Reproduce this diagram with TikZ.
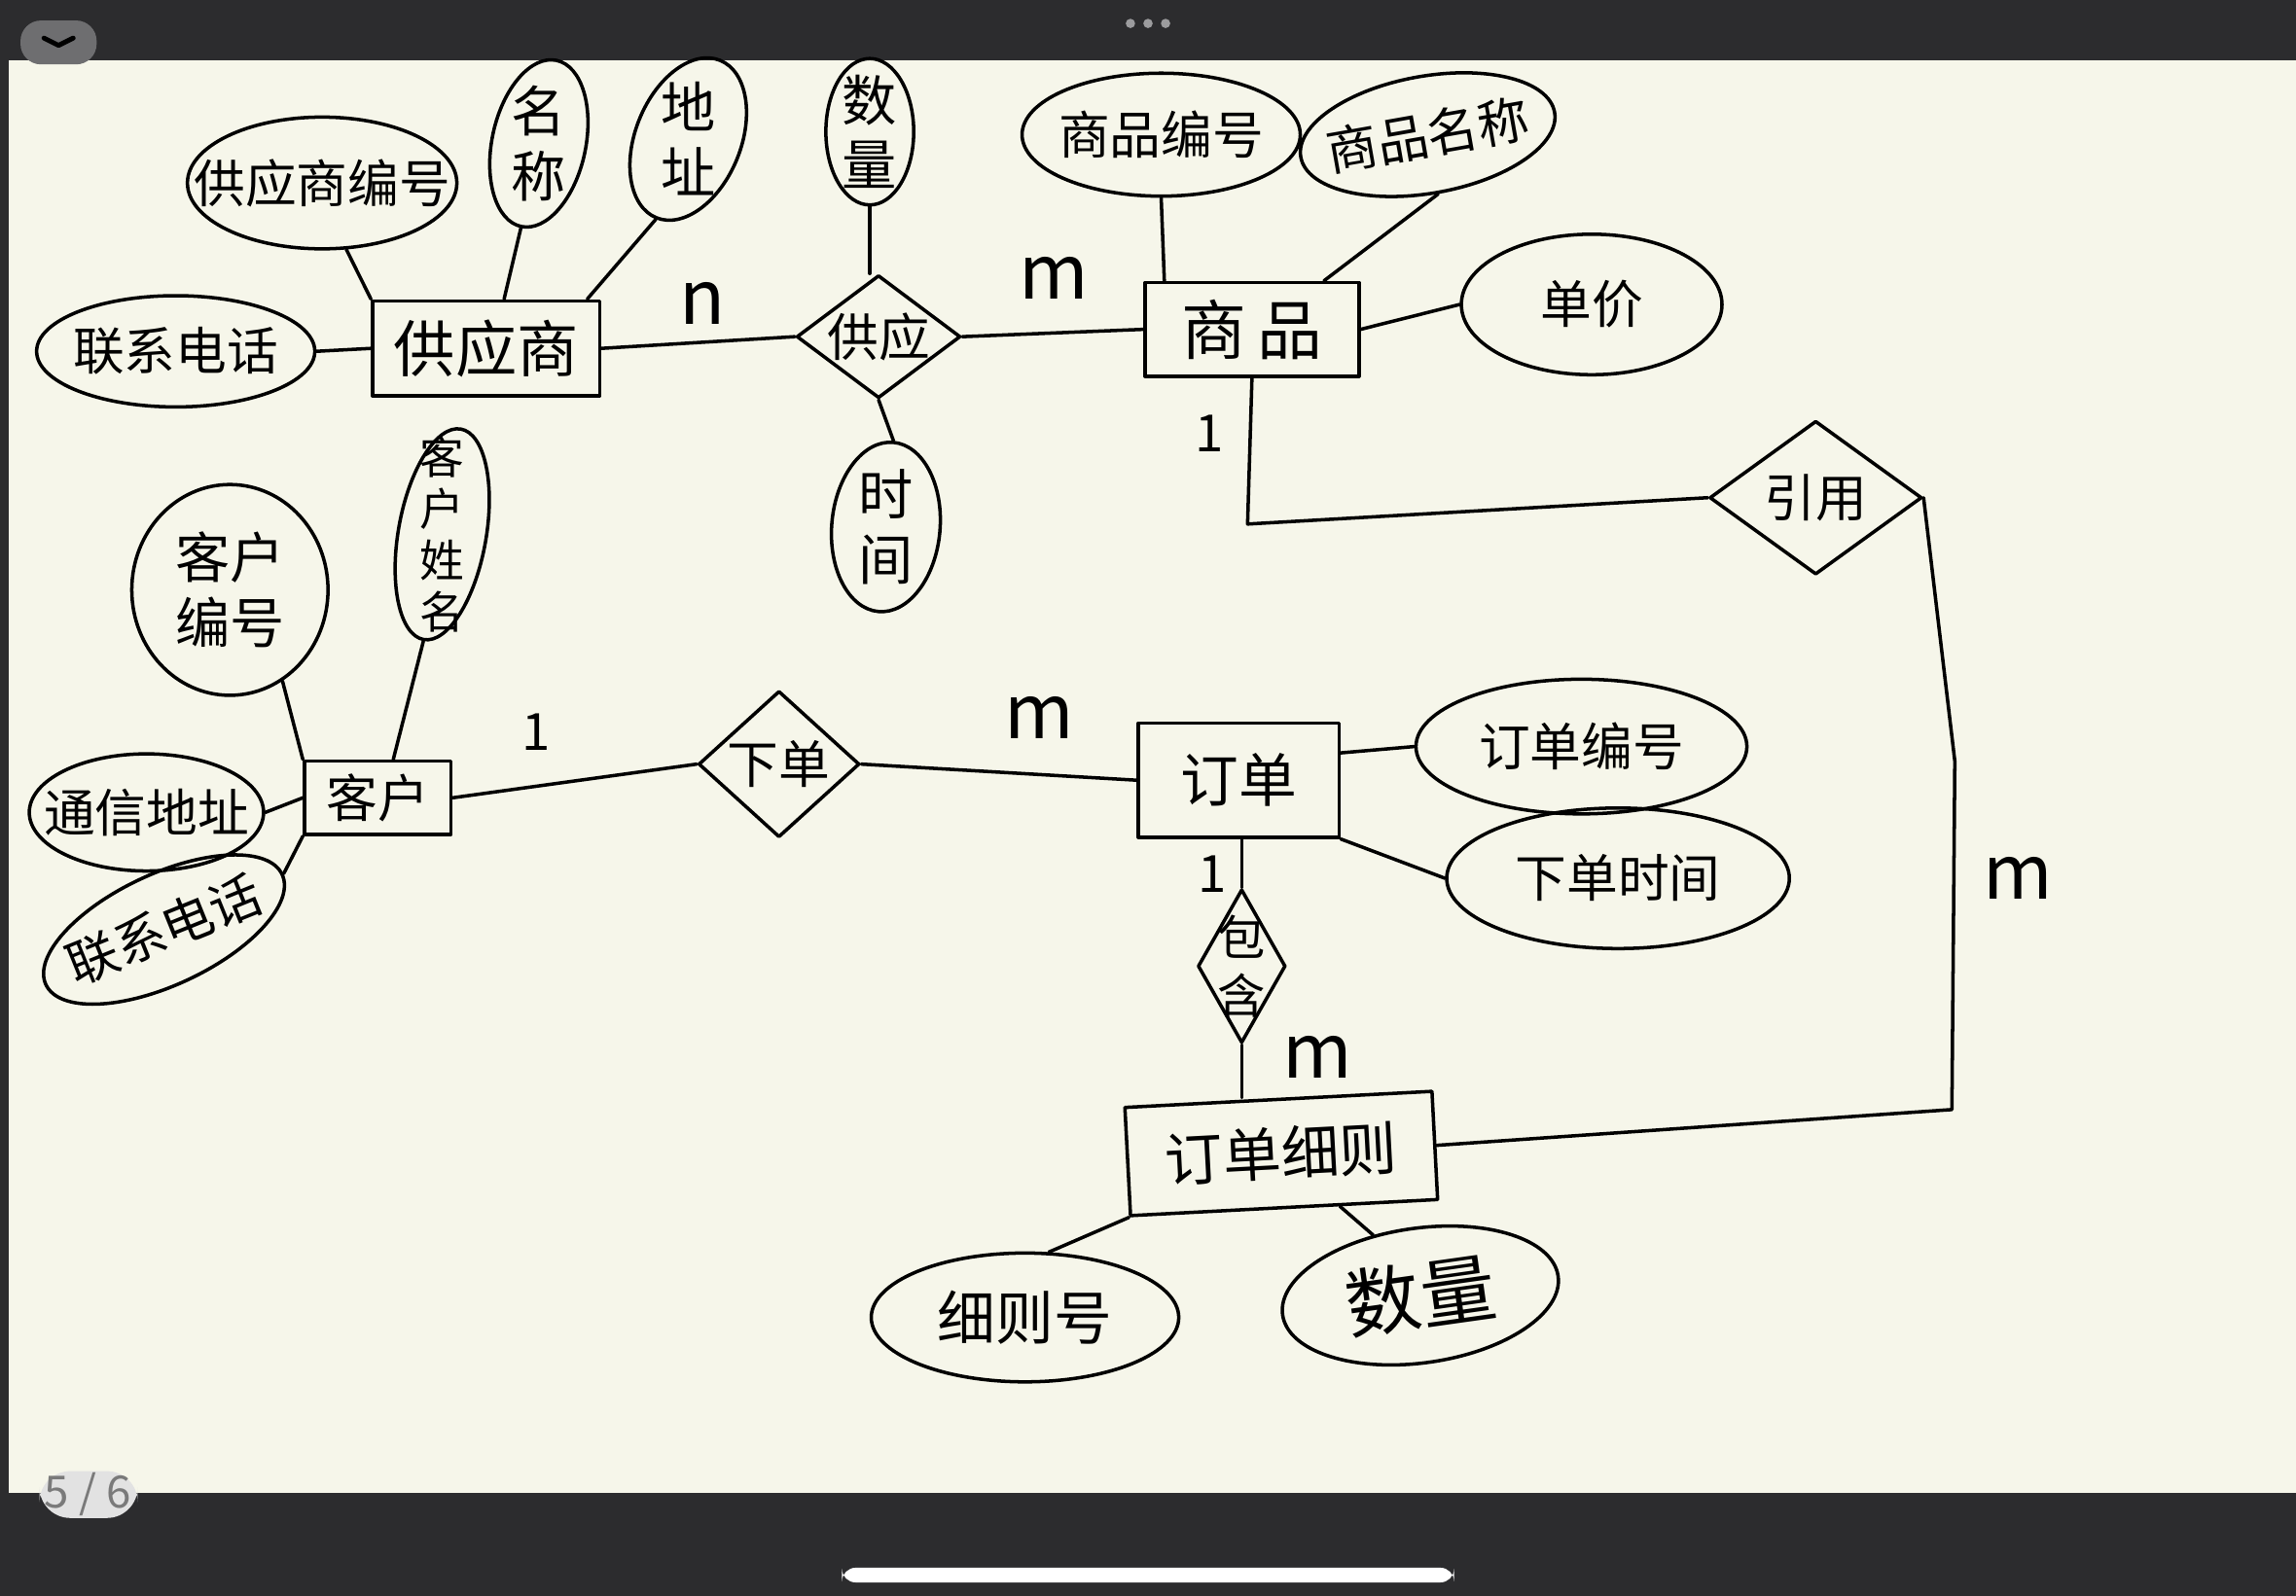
\documentclass[tikz,border=0pt]{standalone}
\usepackage{fontspec}
\setmainfont{Noto Sans CJK SC}
\usetikzlibrary{shapes.geometric}
\definecolor{barbg}{HTML}{2C2C2E}
\definecolor{paper}{HTML}{F6F6EA}
\definecolor{btngray}{HTML}{6E6E70}
\definecolor{dotgray}{HTML}{9C9C9E}
\definecolor{pillgray}{HTML}{E2E2E2}
\definecolor{pagegray}{HTML}{7A7A7A}

\begin{document}
\begin{tikzpicture}[x=0.01505cm, y=-0.01505cm, line join=round, line cap=round]

% --- Define Styles ---
\tikzset{
    sz/.style 2 args={minimum width=#1*0.01505cm, minimum height=#2*0.01505cm},
    entity/.style={draw, rectangle, line width=1pt, inner sep=0pt},
    attr/.style={draw, ellipse, line width=1pt, inner sep=0pt},
    rel/.style={draw, diamond, line width=1pt, inner sep=0pt},
    txt/.style={font=\fontsize{15}{17}\selectfont, align=center, inner sep=0pt},
    vtxt/.style={font=\fontsize{16}{19}\selectfont, align=center, inner sep=0pt},
    card/.style={font=\fontsize{22}{24}\selectfont, inner sep=0pt},
    one/.style={font=\fontsize{15}{17}\selectfont, inner sep=0pt},
    link/.style={line width=1pt}
}

% ================= SCREEN FRAME =================
\fill[barbg] (0,0) rectangle (1568,1090);
\fill[paper] (6,41) rectangle (1568,1020);
\fill[btngray, rounded corners=6] (14,14) rectangle (66,44);
\draw[black, line width=1.4pt] (30,26) -- (40,31) -- (50,26);
\foreach \x in {772,784,796}
    \fill[dotgray] (\x,16) circle (3.2);
\fill[pillgray, rounded corners=9] (27,1005) rectangle (94,1037);
\node[font=\fontsize{13}{15}\selectfont, text=pagegray] (page) at (60,1021) {5 / 6};
\fill[white, rounded corners=4] (575,1071) rectangle (993,1081);

% ================= 1. SUPPLIER =================
\node[entity, sz={155}{65}, label={[txt, font=\fontsize{18}{20}\selectfont]center:供应商}] (gys) at (332,238) {};
\node[attr, sz={184}{90}, label={[txt]center:供应商编号}] (gysbh) at (220,125) {};
\node[attr, sz={64}{116}, rotate=-12, label={[vtxt]center:名\\称}] (mc) at (368,98) {};
\node[attr, sz={72}{116}, rotate=-22, label={[vtxt]center:地\\址}] (dz) at (470,95) {};
\node[attr, sz={190}{76}, label={[txt]center:联系电话}] (lxdha) at (120,240) {};
\draw[link] (gysbh.-70) -- (gys.north west);
\draw[link] (mc.south) -- (gys.70);
\draw[link] (dz.south) -- (gys.26);
\draw[link] (lxdha.east) -- (gys.west);

% ================= 2. SUPPLY =================
\node[rel, sz={112}{84}, label={[txt]center:供应}] (gy) at (600,230) {};
\node[attr, sz={60}{100}, label={[vtxt]center:数\\量}] (sla) at (594,90) {};
\node[attr, sz={74}{116}, rotate=-5, label={[vtxt]center:时\\间}] (sj) at (605,360) {};
\draw[link] (sla.south) -- (sla.south |- gy.north);
\draw[link] (gys.east) -- (gy.west);
\draw[link] (sj.north) -- (gy.south);
\node[card] (ca) at (480,207) {n};

% ================= 3. PRODUCT =================
\node[entity, sz={146}{64}, label={[txt, font=\fontsize{19}{21}\selectfont]center:商\,品}] (sp) at (855,225) {};
\node[attr, sz={190}{84}, label={[txt]center:商品编号}] (spbh) at (793,92) {};
\node[attr, sz={176}{80}, rotate=10, label={[txt, rotate=10]center:商品名称}] (spmc) at (975,92) {};
\node[attr, sz={178}{96}, label={[txt]center:单价}] (dj) at (1087,208) {};
\draw[link] (gy.east) -- (sp.west);
\draw[link] (spbh.south) -- (sp.151);
\draw[link] (spmc.south) -- (sp.34);
\draw[link] (sp.east) -- (dj.west);
\node[card] (cb) at (720,190) {m};

% ================= 4. REFERENCE =================
\node[rel, sz={145}{105}, label={[txt]center:引用}] (yy) at (1240,340) {};
\coordinate (bendA) at (852,358);
\coordinate (bendB) at (1335,520);
\coordinate (bendC) at (1333,758);
\draw[link] (sp.south) -- (bendA) -- (yy.west);
\node[one] (cc) at (826,296) {1};
\node[card] (cd) at (1378,600) {m};

% ================= 5. CUSTOMER =================
\node[entity, sz={100}{50}, label={[txt]center:客户}] (kh) at (258,545) {};
\node[attr, sz={134}{144}, label={[vtxt]center:客户\\编号}] (khbh) at (157,403) {};
\node[attr, sz={60}{146}, rotate=-10, label={[vtxt, font=\fontsize{13}{15}\selectfont]center:客\\户\\姓\\名}] (khxm) at (302,365) {};
\node[attr, sz={160}{80}, label={[txt]center:通信地址}] (txdz) at (100,555) {};
\node[attr, sz={178}{76}, rotate=25, label={[txt, rotate=22]center:联系电话}] (lxdhb) at (112,635) {};
\draw[link] (khbh.-60) -- (kh.north west);
\draw[link] (khxm.south) -- (kh.68);
\draw[link] (txdz.east) -- (kh.west);
\draw[link] (lxdhb.east) -- (kh.south west);

% ================= 6. PLACE ORDER =================
\node[rel, sz={110}{100}, label={[txt]center:下单}] (xd) at (532,522) {};
\draw[link] (kh.east) -- (xd.west);
\node[one] (ce) at (366,500) {1};

% ================= 7. ORDER =================
\node[entity, sz={137}{78}, label={[txt, font=\fontsize{17}{19}\selectfont]center:订单}] (dd) at (846,533) {};
\node[attr, sz={226}{92}, label={[txt]center:订单编号}] (ddbh) at (1080,510) {};
\node[attr, sz={234}{96}, label={[txt]center:下单时间}] (xdsj) at (1105,600) {};
\draw[link] (xd.east) -- (dd.west);
\draw[link] (dd.15) -- (ddbh.west);
\draw[link] (dd.south east) -- (xdsj.west);
\node[card] (cf) at (710,490) {m};

% ================= 8. ORDER DETAIL =================
\node[rel, sz={60}{105}, label={[vtxt, font=\fontsize{14}{17}\selectfont]center:包\\含}] (bh) at (848,660) {};
\node[entity, sz={210}{74}, rotate=3, label={[txt, font=\fontsize{17}{19}\selectfont, rotate=3]center:订单细则}] (ddxz) at (875,788) {};
\node[attr, sz={210}{88}, label={[txt, font=\fontsize{17}{19}\selectfont]center:细则号}] (xzh) at (700,900) {};
\node[attr, sz={190}{92}, rotate=8, label={[txt, font=\fontsize{22}{24}\selectfont, rotate=8]center:数量}] (slb) at (970,885) {};
\draw[link] (dd.south -| bh.north) -- (bh.north);
\draw[link] (bh.south) -- (bh.south |- ddxz.north);
\draw[link] (ddxz.south west) -- (xzh.70);
\draw[link] (ddxz.-45) -- (slb.120);
\draw[link] (yy.east) -- (bendB) -- (bendC) -- (ddxz.east);
\node[one] (cg) at (828,597) {1};
\node[card] (ch) at (900,722) {m};

\end{tikzpicture}
\end{document}
